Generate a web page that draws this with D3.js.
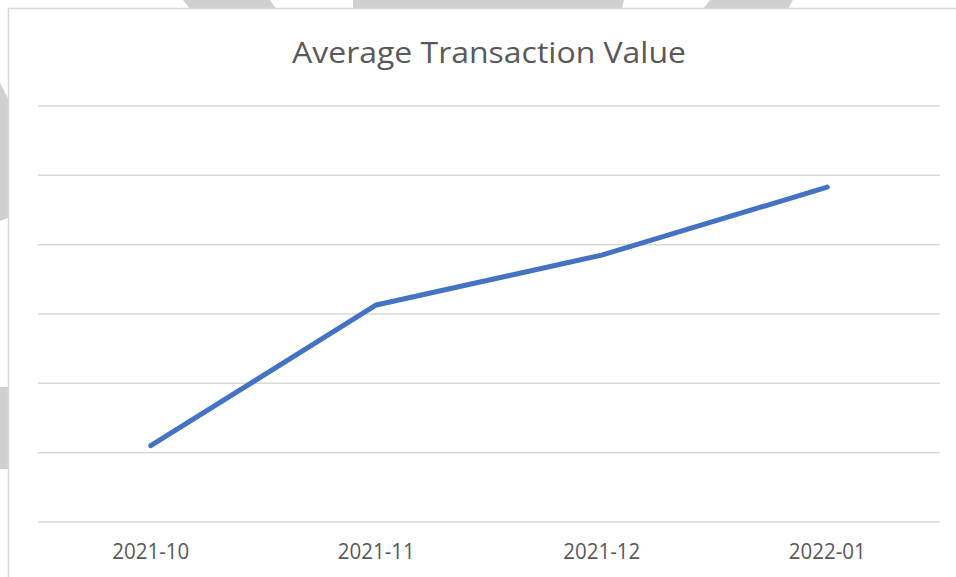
<!DOCTYPE html>
<html>
<head>
<meta charset="utf-8">
<script src="https://cdn.jsdelivr.net/npm/d3@7"></script>
<style>
  html, body { margin: 0; padding: 0; background: #fff; }
  svg { display: block; }
</style>
</head>
<body>
<svg id="chart" width="956" height="577"></svg>
<script>
// Chart data
const months = ["2021-10", "2021-11", "2021-12", "2022-01"];
const avgValues = [1.1, 3.13, 3.85, 4.83];
const gridTicks = [0, 1, 2, 3, 4, 5, 6];
const title = "Average Transaction Value";

const width = 956, height = 577;
const margin = {top: 106, right: 16, bottom: 55, left: 38};
const svg = d3.select("#chart");

// Background shapes peeking out behind the chart box
const bgShapes = [
  [[183, 0], [270, 0], [276, 9], [190, 9]],
  [[353, 0], [624, 0], [622, 9], [353, 9]],
  [[710, 0], [793, 0], [788, 9], [703, 9]],
  [[0, 83], [8, 98], [8, 218], [0, 221]],
  [[0, 387], [8, 387], [8, 469], [0, 469]]
];
svg.selectAll("polygon.bg")
  .data(bgShapes)
  .join("polygon")
  .attr("class", "bg")
  .attr("points", d => d.map(p => p.join(",")).join(" "))
  .attr("fill", "#d0d0d0");

// Chart box
svg.append("rect")
  .attr("x", 8.5).attr("y", 8.5)
  .attr("width", width).attr("height", height)
  .attr("fill", "#fff")
  .attr("stroke", "#d9d9d9")
  .attr("stroke-width", 1.5);

// Scales
const x = d3.scaleBand()
  .domain(months)
  .range([margin.left, width - margin.right]);

const y = d3.scaleLinear()
  .domain([0, 6])
  .range([height - margin.bottom, margin.top]);

// Gridlines
svg.append("g")
  .selectAll("line")
  .data(gridTicks)
  .join("line")
  .attr("x1", margin.left)
  .attr("x2", width - margin.right)
  .attr("y1", d => y(d))
  .attr("y2", d => y(d))
  .attr("stroke", "#d9d9d9")
  .attr("stroke-width", 1.5);

// Title
svg.append("text")
  .attr("x", 489)
  .attr("y", 63)
  .attr("text-anchor", "middle")
  .attr("font-family", "'Open Sans', sans-serif")
  .attr("font-size", 30)
  .attr("fill", "#595959")
  .attr("textLength", 394)
  .attr("lengthAdjust", "spacingAndGlyphs")
  .text(title);

// X axis labels
const xAxis = d3.axisBottom(x).tickSize(0).tickPadding(0);
const gx = svg.append("g")
  .attr("transform", `translate(0,${height - margin.bottom})`)
  .call(xAxis);
gx.select(".domain").remove();
gx.selectAll("text")
  .attr("dy", 0)
  .attr("y", 37)
  .attr("font-family", "'Open Sans', sans-serif")
  .attr("font-size", 22.5)
  .attr("fill", "#595959")
  .attr("textLength", 77)
  .attr("lengthAdjust", "spacingAndGlyphs");

// Line
const line = d3.line()
  .x((d, i) => x(months[i]) + x.bandwidth() / 2)
  .y(d => y(d));

svg.append("path")
  .datum(avgValues)
  .attr("d", line)
  .attr("fill", "none")
  .attr("stroke", "#4472C4")
  .attr("stroke-width", 5)
  .attr("stroke-linecap", "round")
  .attr("stroke-linejoin", "round");
</script>
</body>
</html>
